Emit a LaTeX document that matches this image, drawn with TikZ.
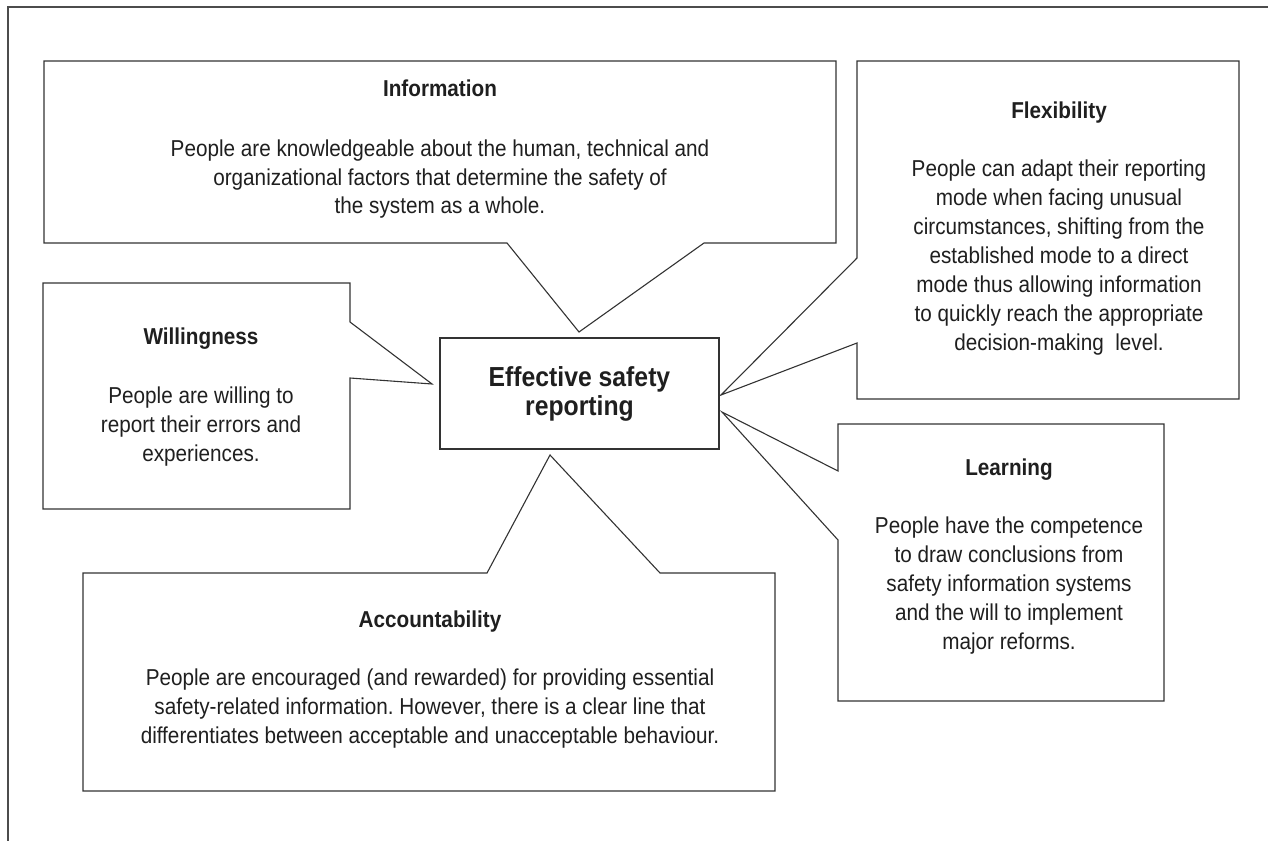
\documentclass[tikz,border=0pt]{standalone}
\usepackage{fontspec}
\setmainfont{Liberation Sans}[FakeStretch=0.9]
\frenchspacing
\begin{document}
\begin{tikzpicture}[x=1pt,y=-1pt,
  box/.style={draw=black!80,line width=1.1pt,line join=miter,fill=white},
  frame/.style={draw=black!70,line width=1.6pt},
  txt/.style={anchor=base,inner sep=0pt,text=black!88,font=\fontsize{23}{29}\selectfont},
  ttl/.style={txt,font=\fontsize{23}{29}\selectfont\bfseries},
  ctr/.style={txt,font=\fontsize{27.5}{29}\selectfont\bfseries}]
\useasboundingbox (0,0) rectangle (1268,840);
% outer frame (only top and left are inside the picture)
\draw[frame] (8,850) -- (8,7) -- (1280,7);
% callout tips
\coordinate (tipI) at (579,332);
\coordinate (tipF) at (721,395);
\coordinate (tipW) at (432,384);
\coordinate (tipL) at (722,412);
\coordinate (tipA) at (550,455);
% Information
\draw[box] (44,61) -- (836,61) -- (836,243) -- (704,243) -- (tipI) -- (507,243) -- (44,243) -- cycle;
% Flexibility
\draw[box] (857,61) -- (1239,61) -- (1239,399) -- (857,399) -- (857,343) -- (tipF) -- (857,258) -- cycle;
% Willingness
\draw[box] (43,283) -- (350,283) -- (350,322) -- (tipW) -- (350,378) -- (350,509) -- (43,509) -- cycle;
% Learning
\draw[box] (838,424) -- (1164,424) -- (1164,701) -- (838,701) -- (838,540) -- (tipL) -- (838,471) -- cycle;
% Accountability
\draw[box] (83,573) -- (487,573) -- (tipA) -- (660,573) -- (775,573) -- (775,791) -- (83,791) -- cycle;
% central box
\draw[box] (440,338) rectangle (719,449);
\node[ctr] (c1) at (579.5,386) {Effective safety};
\node[ctr] (c2) at (579.5,415) {reporting};
% Information text
\node[ttl] (it) at (440,97) {Information};
\node[txt] (i1) at (440,157) {People are knowledgeable about the human, technical and};
\node[txt] (i2) at (440,185) {organizational factors that determine the safety of};
\node[txt] (i3) at (440,213) {the system as a whole.};
% Flexibility text
\node[ttl] (ft) at (1059,118) {Flexibility};
\node[txt] (f1) at (1059,176) {People can adapt their reporting};
\node[txt] (f2) at (1059,205) {mode when facing unusual};
\node[txt] (f3) at (1059,234) {circumstances, shifting from the};
\node[txt] (f4) at (1059,263) {established mode to a direct};
\node[txt] (f5) at (1059,292) {mode thus allowing information};
\node[txt] (f6) at (1059,321) {to quickly reach the appropriate};
\node[txt] (f7) at (1059,350) {decision-making\ \ level.};
% Willingness text
\node[ttl] (wt) at (201,344) {Willingness};
\node[txt] (w1) at (201,403) {People are willing to};
\node[txt] (w2) at (201,432) {report their errors and};
\node[txt] (w3) at (201,461) {experiences.};
% Learning text
\node[ttl] (lt) at (1009,475) {Learning};
\node[txt] (l1) at (1009,533) {People have the competence};
\node[txt] (l2) at (1009,562) {to draw conclusions from};
\node[txt] (l3) at (1009,591) {safety information systems};
\node[txt] (l4) at (1009,620) {and the will to implement};
\node[txt] (l5) at (1009,649) {major reforms.};
% Accountability text
\node[ttl] (at) at (430,627) {Accountability};
\node[txt] (a1) at (430,685) {People are encouraged (and rewarded) for providing essential};
\node[txt] (a2) at (430,714) {safety-related information. However, there is a clear line that};
\node[txt] (a3) at (430,743) {differentiates between acceptable and unacceptable behaviour.};
\end{tikzpicture}
\end{document}
